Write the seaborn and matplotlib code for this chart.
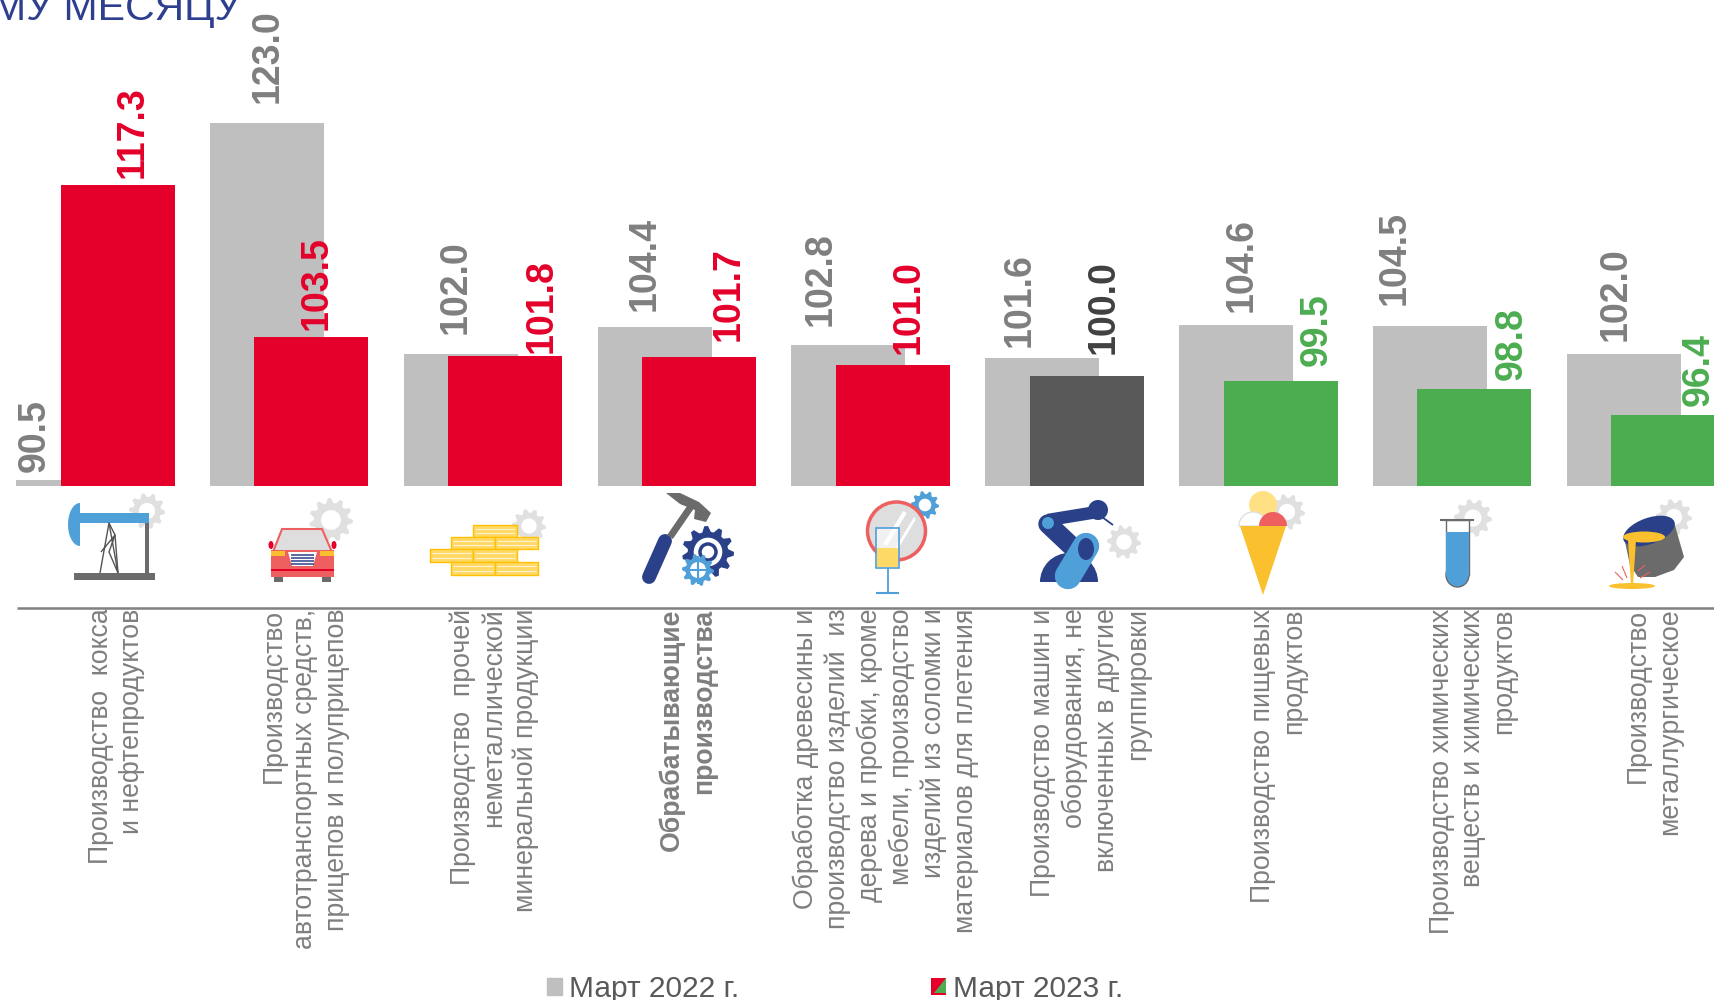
import matplotlib
matplotlib.use('Agg')
import matplotlib.pyplot as plt
import matplotlib.patches as mp
from matplotlib.legend_handler import HandlerPatch
from matplotlib.transforms import ScaledTranslation
import numpy as np
import seaborn as sns

# Данные
categories = [
    'Производство  кокса\nи нефтепродуктов',
    'Производство\nавтотранспортных средств,\nприцепов и полуприцепов',
    'Производство  прочей\nнеметаллической\nминеральной продукции',
    'Обрабатывающие\nпроизводства',
    'Обработка древесины и\nпроизводство изделий  из\nдерева и пробки, кроме\nмебели, производство\nизделий из соломки и\nматериалов для плетения',
    'Производство машин и\nоборудования, не\nвключенных в другие\nгруппировки',
    'Производство пищевых\nпродуктов',
    'Производство химических\nвеществ и химических\nпродуктов',
    'Производство\nметаллургическое',
]
march_2022 = [90.5, 123.0, 102.0, 104.4, 102.8, 101.6, 104.6, 104.5, 102.0]
march_2023 = [117.3, 103.5, 101.8, 101.7, 101.0, 100.0, 99.5, 98.8, 96.4]
legend_labels = ['Март 2022 г.', 'Март 2023 г.']
title_tail = 'МУ МЕСЯЦУ'

RED, GREEN, DARK, GRAY = '#E4002B', '#4CAD50', '#595959', '#BFBFBF'
colors_2023 = [RED, RED, RED, RED, RED, DARK, GREEN, GREEN, GREEN]
text_2023 = [RED, RED, RED, RED, RED, '#404040', GREEN, GREEN, GREEN]

# сдвиги подписей в пикселях (как в исходнике они стоят неровно)
dx_2022 = [-38, 1, -5, -10, -28, -23, 5, -35, -8]
dy_2022 = [8, 20, 20, 16, 19, 11, 13, 21, 13]
dx_2023 = [15, 5, 36, 30, 16, 17, 36, 37, 30]
dy_2023 = [7, 7, 3, 16, 11, 22, 15, 9, 9]
tick_dx = [21, 16, 11, 11, 15, 26, 20, 21, 8]

sns.set_theme(style='white')
plt.rcParams['font.family'] = ['Liberation Sans', 'DejaVu Sans']

fig = plt.figure(figsize=(17.14, 10), dpi=100)
ax = fig.add_axes([0, 0.5145, 1, 0.4855])
ax.patch.set_alpha(0)

sns.barplot(x=categories, y=march_2022, color=GRAY, saturation=1, width=0.588, linewidth=0, ax=ax)
sns.barplot(x=categories, y=march_2023, hue=categories, palette=colors_2023, saturation=1,
            width=0.588, linewidth=0, legend=False, ax=ax)

n = len(categories)
shift = 0.1147
for i, bar in enumerate(ax.patches):
    bar.set_x(bar.get_x() + (-shift if i < n else shift))

ax.set_xlim(-0.4915, 8.3505)
ax.set_ylim(90, 134.14)
sns.despine(ax=ax, left=True, bottom=True)
ax.set_yticks([])
ax.set_ylabel('')
ax.tick_params(axis='x', length=0, pad=88.5, labelsize=19.2, labelcolor='#7F7F7F')

for i, lab in enumerate(ax.get_xticklabels()):
    lab.set_rotation(90)
    lab.set_ha('center')
    lab.set_va('top')
    lab.set_multialignment('right')
    lab.set_linespacing(1.27)
    lab.set_transform(lab.get_transform() + ScaledTranslation(tick_dx[i] / 100, 0, fig.dpi_scale_trans))
    if i == 3:
        lab.set_fontweight('bold')

for i in range(n):
    for vals, shift_dir, dx, dy, col in [(march_2022, -1, dx_2022, dy_2022, '#7F7F7F'),
                                         (march_2023, 1, dx_2023, dy_2023, text_2023[i])]:
        ax.annotate(f'{vals[i]:.1f}', (i + shift_dir * shift, vals[i]),
                    xytext=(dx[i] * 0.72, dy[i] * 0.72), textcoords='offset points',
                    rotation=90, ha='center', va='bottom', fontsize=27, fontweight='bold',
                    color=col, annotation_clip=False)

# слой с пиктограммами, координаты в пикселях картинки
ov = fig.add_axes([0, 0, 1, 1], zorder=-1)
ov.set_xlim(0, 1714)
ov.set_ylim(1000, 0)
ov.axis('off')
ov.plot([17, 1714], [607.5, 607.5], color='#808080', lw=1.8, solid_capstyle='butt')
ov.text(241, 20, title_tail, ha='right', va='baseline', fontsize=29.5, color='#2E3F8F')

BLUE, NAVY, STEEL, YEL, ORANGE, CORAL, LGRAY = '#4F9FD8', '#2A4189', '#6B6B6B', '#FFD966', '#FBC02D', '#EE5F5F', '#E0E0E0'


def gear(cx, cy, r, color, teeth=10, z=1, hole=0.45):
    ang = np.linspace(0, 2 * np.pi, teeth * 4, endpoint=False)
    rad = np.tile([r, r, r * 0.78, r * 0.78], teeth)
    ov.add_patch(mp.Polygon(np.c_[cx + rad * np.cos(ang), cy + rad * np.sin(ang)], color=color, lw=0, zorder=z))
    ov.add_patch(mp.Circle((cx, cy), r * hole, color='white', lw=0, zorder=z))


def poly(pts, color, z=3, **kw):
    ov.add_patch(mp.Polygon(pts, facecolor=color, lw=kw.pop('lw', 0), zorder=z, **kw))


def rect(x0, x1, y0, y1, color, z=3, **kw):
    ov.add_patch(mp.Rectangle((x0, y0), x1 - x0, y1 - y0, facecolor=color, lw=kw.pop('lw', 0), zorder=z, **kw))


def line(xs, ys, color, lw, z=3, cap='butt'):
    ov.plot(xs, ys, color=color, lw=lw, zorder=z, solid_capstyle=cap)


# 1 качалка
gear(147, 511, 18, LGRAY)
t = np.linspace(np.pi / 2, 3 * np.pi / 2, 30)
poly(np.c_[80 + 12 * np.cos(t), 524.5 + 21.5 * np.sin(t)], BLUE)
rect(80, 149, 513, 523, BLUE)
rect(74, 155, 573, 580, STEEL)
rect(145, 149, 523, 573, STEEL)
line([100, 109, 118, 109, 115, 101], [573, 523, 573, 552, 535, 552], '#555555', 1)
line([109, 115, 118], [523, 535, 573], '#555555', 1)

# 2 машина
gear(331, 520, 22, LGRAY, teeth=11)
poly([(282, 529), (322, 529), (332, 552), (273, 552)], '#DEDEDE', edgecolor=CORAL, lw=1.5)
rect(271, 334, 550, 577, CORAL)
rect(271, 285, 551, 556, ORANGE, z=4)
rect(320, 334, 551, 556, ORANGE, z=4)
poly([(288, 552), (317, 552), (313, 566), (292, 566)], 'white', z=4)
for y in [555, 558, 561, 564]:
    line([291, 314], [y, y], NAVY, 1.1, z=5)
rect(271, 334, 569, 571, RED, z=4)
rect(274, 283, 577, 582, STEEL)
rect(322, 331, 577, 582, STEEL)
ov.add_patch(mp.Ellipse((271, 545), 5, 8, color=RED, lw=0, zorder=3))
ov.add_patch(mp.Ellipse((334, 545), 5, 8, color=RED, lw=0, zorder=3))

# 3 брус
gear(529, 526, 17, LGRAY)
for x0, x1, y0, y1 in [(473, 517, 525, 537), (451, 495, 537, 549), (495, 538, 537, 549),
                       (430, 473, 549, 562), (473, 517, 549, 562), (451, 495, 562, 575),
                       (495, 538, 562, 575)]:
    rect(x0, x1, y0, y1, YEL, edgecolor='#FFC000', lw=1)
    line([x0 + 2, x1 - 2], [(y0 * 2 + y1) / 3] * 2, '#FFF2CC', 0.8, z=4)
    line([x0 + 2, x1 - 2], [(y0 + y1 * 2) / 3] * 2, '#FFF2CC', 0.8, z=4)

# 4 молоток и шестерни
line([665, 649], [541, 577], NAVY, 10, cap='round')
line([692, 670], [505, 537], STEEL, 5)
poly([(666, 493), (680, 493), (699, 502), (711, 513), (706, 522), (694, 519), (695, 510), (680, 504)], STEEL)
gear(708, 552, 26, NAVY, teeth=11, hole=0.55)
ov.add_patch(mp.Circle((708, 552), 8, fc='none', ec=NAVY, lw=2.5, zorder=4))
gear(698, 570, 16, BLUE, teeth=10, z=5, hole=0.5)
line([684, 712], [570, 570], BLUE, 1.5, z=6)
line([698, 698], [556, 584], BLUE, 1.5, z=6)

# 5 зеркало и бокал
ov.add_patch(mp.Circle((896.5, 531), 29, fc='#DEDEDE', ec=CORAL, lw=2.5, zorder=3))
line([885, 905], [545, 512], 'white', 3, z=4)
line([897, 915], [548, 518], 'white', 2, z=4)
gear(925, 505, 14, BLUE, teeth=10)
rect(876, 899, 528, 568, '#FFFFFF', z=5, alpha=0.6)
rect(877, 898, 548, 567, YEL, z=5)
rect(876, 899, 528, 568, 'none', z=6, edgecolor=BLUE, lw=1.2)
line([888, 888], [568, 593], BLUE, 1.3, z=5)
line([876, 899], [593, 593], BLUE, 1.5, z=5)

# 6 робот
gear(1124, 542, 17, LGRAY)
ov.add_patch(mp.Wedge((1069, 582), 29, 180, 360, color=NAVY, lw=0, zorder=3))
line([1048, 1097], [520, 512], NAVY, 9)
line([1048, 1082], [524, 556], NAVY, 14, cap='round')
line([1068, 1086], [576, 546], BLUE, 19, z=4, cap='round')
ov.add_patch(mp.Circle((1098, 510), 10, color=NAVY, lw=0, zorder=4))
ov.add_patch(mp.Circle((1048, 523), 6, color=BLUE, lw=0, zorder=5))
ov.add_patch(mp.Ellipse((1086, 549), 16, 22, color=NAVY, lw=0, zorder=5))
line([1102, 1113], [517, 525], NAVY, 1.3)

# 7 мороженое
gear(1287, 512, 18, LGRAY)
ov.add_patch(mp.Circle((1263, 505), 14, color='#FFE082', lw=0, zorder=3))
ov.add_patch(mp.Wedge((1253, 526), 14, 180, 360, fc='white', ec=LGRAY, lw=1, zorder=4))
ov.add_patch(mp.Wedge((1273, 526), 14, 180, 360, color=CORAL, lw=0, zorder=5))
poly([(1240, 526), (1286, 526), (1263, 595)], ORANGE, z=6)

# 8 пробирка
gear(1473, 518, 19, LGRAY)
rect(1446, 1469, 520, 575, 'white', z=3, edgecolor=STEEL, lw=1)
rect(1446, 1469, 532, 576, BLUE, z=4)
ov.add_patch(mp.Ellipse((1457.5, 575), 23, 24, fc=BLUE, ec=STEEL, lw=1, zorder=3))
line([1440, 1474], [520, 520], STEEL, 1.5, z=5)

# 9 ковш
gear(1674, 517, 18, LGRAY)
poly([(1624, 537), (1674, 522), (1684, 557), (1674, 570), (1655, 577), (1638, 577), (1630, 565)], STEEL)
ov.add_patch(mp.Ellipse((1649, 531), 54, 26, angle=-20, color=NAVY, lw=0, zorder=4))
ov.add_patch(mp.Ellipse((1644, 537), 42, 11, color=ORANGE, lw=0, zorder=5))
poly([(1628, 540), (1636, 540), (1633, 585), (1631, 585)], ORANGE, z=5)
ov.add_patch(mp.Ellipse((1632, 586), 46, 6, color=ORANGE, lw=0, zorder=5))
for x0, x1, y0, y1 in [(1622, 1627, 566, 578), (1615, 1623, 572, 580), (1640, 1650, 578, 572), (1638, 1645, 571, 565)]:
    line([x0, x1], [y0, y1], CORAL, 0.8, z=6)


# значок легенды: красный квадрат с зелёным уголком
class HandlerTwoTone(HandlerPatch):
    def create_artists(self, legend, orig, xd, yd, w, h, fontsize, trans):
        red = mp.Rectangle((-xd, -yd), w, h, facecolor=RED, lw=0, transform=trans)
        green = mp.Polygon([(-xd + w * 0.2, -yd + h * 0.12), (-xd + w, -yd + h * 0.12), (-xd + w, -yd + h)],
                           facecolor=GREEN, lw=0, transform=trans)
        return [red, green]


handles = [mp.Patch(color=GRAY), mp.Patch(color=RED)]
leg = fig.legend(handles, legend_labels, loc='center', bbox_to_anchor=(835 / 1714, 1 - 989 / 1000),
                 ncol=2, frameon=False, fontsize=21.5, labelcolor='#595959', handlelength=0.5,
                 handleheight=0.5, handletextpad=0.22, columnspacing=6.43,
                 handler_map={handles[1]: HandlerTwoTone()})

fig.savefig('out.png', dpi=100)
